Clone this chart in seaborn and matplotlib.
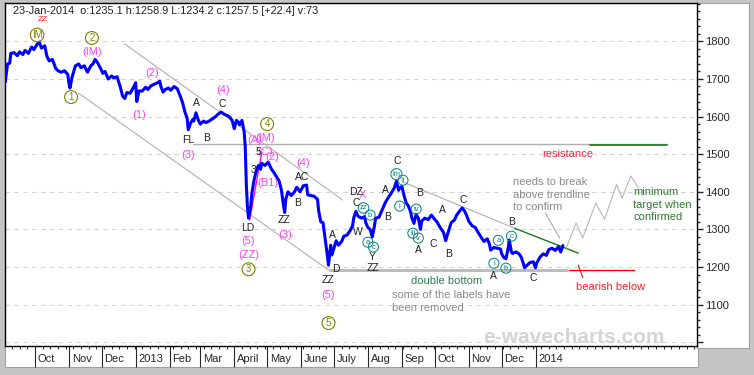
import pandas as pd
import seaborn as sns
import matplotlib.pyplot as plt
import matplotlib.dates as mdates
import matplotlib.transforms as mtransforms
from matplotlib.patches import Rectangle
from matplotlib.ticker import MultipleLocator, FixedLocator

# daily gold price, days counted from 4-Sep-2012
start = pd.Timestamp("2012-09-04")
day_offset = [
    0, 2, 4, 5, 8, 11, 13, 16, 18, 21, 24, 26, 29, 31, 33, 36, 38, 40, 43, 46,
    48, 51, 54, 57, 58, 59, 61, 64, 67, 69, 72, 75, 78, 80, 82, 84, 87, 89, 91, 94,
    97, 99, 102, 105, 107, 109, 111, 114, 117, 119, 120, 122, 125, 128, 130, 133, 136, 139, 141, 142,
    144, 146, 149, 151, 154, 157, 160, 162, 164, 166, 167, 169, 171, 172, 174, 176, 178, 181, 183, 186,
    189, 192, 194, 197, 200, 203, 205, 207, 209, 211, 213, 214, 216, 218, 219, 220, 221, 222, 224, 225,
    227, 229, 231, 233, 234, 237, 240, 243, 245, 248, 250, 252, 254, 255, 256, 258, 261, 264, 266, 269,
    272, 275, 276, 279, 282, 285, 286, 288, 290, 292, 294, 295, 297, 298, 300, 302, 304, 307, 309, 312,
    315, 317, 318, 320, 322, 325, 328, 329, 331, 333, 335, 337, 338, 341, 344, 347, 349, 352, 355, 357,
    359, 360, 362, 364, 366, 368, 370, 371, 373, 375, 377, 379, 380, 383, 386, 389, 391, 394, 397, 400,
    402, 404, 407, 410, 412, 415, 417, 419, 421, 423, 426, 429, 432, 435, 437, 440, 442, 443, 446, 449,
    452, 453, 455, 457, 459, 460, 462, 463, 466, 469, 471, 473, 474, 476, 479, 482, 484, 485, 488, 491,
    494, 496, 499, 502, 505, 507, 509,
]
price = [
    1692, 1740, 1742, 1768, 1770, 1762, 1772, 1765, 1776, 1768, 1785, 1778, 1792, 1798, 1782, 1788, 1760, 1748, 1752, 1728,
    1722, 1718, 1722, 1712, 1690, 1676, 1706, 1735, 1740, 1730, 1735, 1718, 1735, 1740, 1752, 1744, 1728, 1715, 1720, 1700,
    1708, 1703, 1706, 1678, 1655, 1648, 1664, 1662, 1678, 1690, 1640, 1668, 1668, 1678, 1672, 1682, 1686, 1690, 1694, 1680,
    1665, 1672, 1676, 1670, 1680, 1674, 1652, 1635, 1612, 1595, 1565, 1582, 1592, 1588, 1610, 1592, 1580, 1588, 1584, 1588,
    1594, 1600, 1606, 1612, 1606, 1602, 1598, 1590, 1568, 1590, 1584, 1578, 1590, 1560, 1520, 1420, 1360, 1330, 1360, 1395,
    1430, 1455, 1470, 1460, 1476, 1470, 1479, 1460, 1452, 1438, 1428, 1405, 1362, 1345, 1380, 1400, 1390, 1400, 1412, 1400,
    1416, 1418, 1392, 1390, 1388, 1380, 1350, 1320, 1318, 1275, 1230, 1205, 1258, 1232, 1250, 1270, 1258, 1268, 1282, 1285,
    1298, 1310, 1330, 1348, 1335, 1330, 1334, 1318, 1305, 1300, 1280, 1310, 1330, 1332, 1352, 1372, 1382, 1395, 1410, 1428,
    1404, 1410, 1414, 1390, 1370, 1362, 1346, 1332, 1316, 1340, 1330, 1300, 1322, 1330, 1326, 1338, 1330, 1320, 1305, 1292,
    1270, 1290, 1318, 1325, 1338, 1350, 1357, 1350, 1338, 1322, 1310, 1305, 1290, 1276, 1268, 1275, 1260, 1245, 1252, 1250,
    1248, 1236, 1225, 1222, 1250, 1272, 1240, 1236, 1240, 1235, 1226, 1208, 1198, 1204, 1212, 1214, 1198, 1210, 1226, 1235,
    1231, 1246, 1250, 1244, 1254, 1240, 1257,
]

month_starts = ["2012-10-01", "2012-11-01", "2012-12-01", "2013-01-01", "2013-02-01", "2013-03-01",
                "2013-04-01", "2013-05-01", "2013-06-01", "2013-07-01", "2013-08-01", "2013-09-01",
                "2013-10-01", "2013-11-01", "2013-12-01", "2014-01-01"]
month_labels = ["Oct", "Nov", "Dec", "2013", "Feb", "Mar", "April", "May", "June", "July",
                "Aug", "Sep", "Oct", "Nov", "Dec", "2014"]
price_ticks = [1000, 1100, 1200, 1300, 1400, 1500, 1600, 1700, 1800]

header = "23-Jan-2014  o:1235.1 h:1258.9 L:1234.2 c:1257.5 [+22.4] v:73"

# wave labels: (day, price, text)
olive_circles = [(29, 1817, "IM"), (79, 1809, "2"), (60, 1652, "1"), (239, 1580, "4"),
                 (222, 1194, "3"), (295, 1051, "5")]
magenta_labels = [(79, 1772, "(IM)"), (134, 1716, "(2)"), (122, 1604, "(1)"), (199, 1670, "(4)"),
                  (167, 1498, "(3)"), (272, 1476, "(4)"), (255, 1285, "(3)"), (222, 1269, "(5)"),
                  (222, 1231, "(ZZ)"), (295, 1125, "(5)"), (240, 1423, "(B1)"), (237, 1506, "(C)"),
                  (244, 1492, "(2)"), (237, 1543, "(IM)"), (228, 1538, "(A)"), (326, 1391, "X")]
black_labels = [(174, 1636, "A"), (198, 1633, "C"), (167, 1538, "FL"), (184, 1543, "B"),
                (254, 1325, "ZZ"), (267, 1370, "B"), (271, 1439, "AC"), (299, 1285, "A"),
                (302, 1194, "D"), (295, 1165, "ZZ"), (320, 1399, "DZ"), (320, 1370, "C"),
                (322, 1292, "W"), (335, 1226, "Y"), (336, 1197, "ZZ"), (347, 1404, "A"),
                (349, 1333, "B"), (358, 1482, "C"), (378, 1396, "B"), (377, 1245, "A"),
                (391, 1261, "C"), (399, 1351, "A"), (405, 1234, "B"), (418, 1378, "C"),
                (462, 1319, "B"), (446, 1176, "A"), (482, 1170, "C"), (221, 1303, "LD"),
                (231, 1506, "5"), (227, 1458, "3")]
teal_circles = [(327, 1357, "zz"), (333, 1338, "b"), (331, 1266, "a"), (336, 1253, "c"),
                (357, 1447, "im"), (363, 1431, "ii"), (360, 1362, "i"), (375, 1354, "iv"),
                (372, 1290, "iii"), (377, 1277, "v"), (450, 1271, "a"), (446, 1210, "i"),
                (457, 1197, "b"), (462, 1282, "c")]

# projected path after a breakout
proj_day = [512, 521, 527, 539, 547, 558, 563, 571, 578]
proj_price = [1250, 1317, 1277, 1370, 1327, 1420, 1383, 1442, 1410]


def day(n):
    return mdates.date2num(start + pd.Timedelta(days=n))


sns.set_style("white")
plt.rcParams["font.family"] = ["Liberation Sans", "DejaVu Sans"]
plt.rcParams["font.size"] = 8

fig = plt.figure(figsize=(7.54, 3.75), dpi=100)
fig.patch.set_facecolor("#c4c4c4")
W, H = 754, 375
# white panels for the axis label bands
fig.patches.append(Rectangle((5 / W, 1 - 367 / H), 693 / W, 22 / H, transform=fig.transFigure,
                             facecolor="white", edgecolor="#a0a0a0", lw=0.8, zorder=-5))
fig.patches.append(Rectangle((697 / W, 1 - 348 / H), 52 / W, 345 / H, transform=fig.transFigure,
                             facecolor="white", edgecolor="#a0a0a0", lw=0.8, zorder=-5))
ax = fig.add_axes([5 / W, 1 - 346 / H, 692 / W, 343 / H])
ax.set_facecolor("white")

df = pd.DataFrame({"date": start + pd.to_timedelta(day_offset, unit="D"), "price": price})
sns.lineplot(data=df, x="date", y="price", color="#0000ff", lw=2.2, estimator=None, ax=ax, zorder=3)

ax.set_xlim(day(-0.3), day(631.4))
ax.set_ylim(990, 1902)
ax.set(xlabel=None, ylabel=None)

# grid
for p in price_ticks:
    ax.axhline(p, color="#d4d4d4", lw=0.8, ls=(0, (4, 4)), zorder=1)

# trend lines
grey = "#b0b0b0"
ax.plot([day(109), day(308)], [1793, 1378], color=grey, lw=0.8, zorder=2)
ax.plot([day(67), day(295)], [1662, 1192], color=grey, lw=0.8, zorder=2)
ax.plot([day(363), day(465)], [1426, 1303], color=grey, lw=0.8, zorder=2)
ax.plot([day(465), day(523)], [1303, 1237], color="#1a7a1a", lw=1, zorder=2)
ax.plot([day(171), day(604)], [1527, 1527], color=grey, lw=1, zorder=2)
ax.plot([day(534), day(604)], [1525, 1525], color="#1a7a1a", lw=1.2, zorder=2)
ax.plot([day(296), day(513)], [1192, 1192], color="#bcbcbc", lw=2.2, zorder=2)
ax.plot([day(515), day(574)], [1192, 1192], color="#ff0000", lw=1, zorder=2)
ax.plot([day(523), day(527)], [1205, 1173], color="#ff0000", lw=0.8, zorder=2)
ax.plot([day(223), day(234)], [1325, 1503], color="#ff00ff", lw=1, zorder=2)
ax.plot([day(d) for d in proj_day], proj_price, color="#b8b8b8", lw=0.8, zorder=2)
ax.plot([day(493), day(506)], [1343, 1277], color="#a8a8a8", lw=0.8, zorder=2)

# wave labels
for d, p, t in olive_circles:
    ax.text(day(d), p, t, color="#808000", fontsize=7, ha="center", va="center", zorder=5,
            bbox=dict(boxstyle="circle,pad=0.15", fc="none", ec="#808000", lw=0.8))
for d, p, t in magenta_labels:
    ax.text(day(d), p, t, color="#ff40ff", fontsize=8, ha="center", va="center", zorder=5)
for d, p, t in black_labels:
    ax.text(day(d), p, t, color="#202020", fontsize=7.5, ha="center", va="center", zorder=5)
for d, p, t in teal_circles:
    ax.text(day(d), p, t, color="#008080", fontsize=5.5, ha="center", va="center", zorder=5,
            bbox=dict(boxstyle="circle,pad=0.2", fc="none", ec="#008080", lw=0.7))
ax.text(day(34), 1857, "ZZ", color="#ff2020", fontsize=6, ha="center", va="center")

# commentary
ax.text(day(513), 1500, "resistance", color="#ff2040", fontsize=8, ha="center", va="center")
ax.text(day(463), 1439, "needs to break\nabove trendline\nto confirm", color="#8a8a8a",
        fontsize=8, ha="left", va="top", linespacing=1.3)
ax.text(day(573), 1412, "minimum\ntarget when\nconfirmed", color="#2e7d32",
        fontsize=8, ha="left", va="top", linespacing=1.3)
ax.text(day(370), 1162, "double bottom", color="#2e7d4f", fontsize=8, ha="left", va="center")
ax.text(day(353), 1138, "some of the labels have\nbeen removed", color="#8a8a8a",
        fontsize=8, ha="left", va="top", linespacing=1.3)
ax.text(day(521), 1146, "bearish below", color="#ff2020", fontsize=8, ha="left", va="center")
ax.text(day(519), 1013, "e-wavecharts.com", color="#d4d4d4", fontsize=15, fontweight="bold",
        ha="center", va="center", zorder=1)

fig.text(13 / W, 1 - 11 / H, header, fontsize=7.8, ha="left", va="center", color="#202020")

# axes styling
for s in ax.spines.values():
    s.set_visible(True)
    s.set_color("black")
    s.set_linewidth(1)

ax.yaxis.tick_right()
ax.yaxis.set_major_locator(FixedLocator(price_ticks))
ax.set_yticklabels([""] + [str(p) for p in price_ticks[1:]])
ax.yaxis.set_minor_locator(MultipleLocator(20))
ax.tick_params(axis="y", which="major", length=4, width=1, pad=2, labelsize=8, direction="out")
ax.tick_params(axis="y", which="minor", length=2.5, width=1, direction="out")

ax.set_xticks([day((pd.Timestamp(m) - start).days) for m in month_starts])
ax.set_xticklabels(month_labels)
ax.xaxis.set_minor_locator(mdates.WeekdayLocator(byweekday=mdates.MO))
ax.tick_params(axis="x", which="both", bottom=True, top=False)
ax.tick_params(axis="x", which="major", length=15, width=0.8, pad=-9.5, labelsize=8,
               direction="out")
ax.tick_params(axis="x", which="minor", length=2.5, width=0.8, direction="out")
offset = mtransforms.ScaledTranslation(2 / 72, 0, fig.dpi_scale_trans)
for lab in ax.xaxis.get_majorticklabels():
    lab.set_horizontalalignment("left")
    lab.set_transform(lab.get_transform() + offset)

plt.savefig("out.png", dpi=100, facecolor=fig.get_facecolor())
